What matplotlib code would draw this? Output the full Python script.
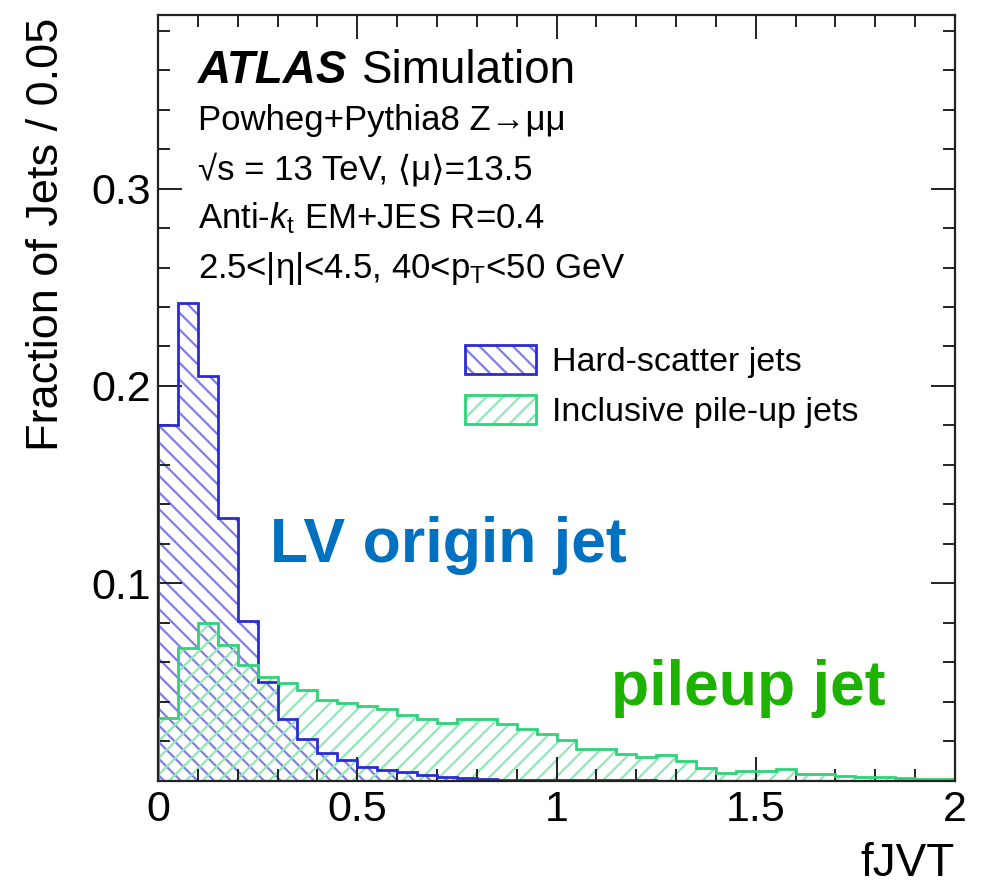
import numpy as np
import matplotlib
matplotlib.use("Agg")
import matplotlib.pyplot as plt
from matplotlib.ticker import MultipleLocator

plt.rcParams['font.family'] = ['Liberation Sans', 'DejaVu Sans']
plt.rcParams['mathtext.fontset'] = 'custom'
plt.rcParams['mathtext.rm'] = 'Liberation Sans'
plt.rcParams['mathtext.it'] = 'Liberation Sans:italic'
plt.rcParams['mathtext.bf'] = 'Liberation Sans:bold'
plt.rcParams['hatch.linewidth'] = 1.6

# fJVT binning, 0.05 wide
bin_edges = np.linspace(0, 2, 41)

# fraction of jets per bin
hs_jets = [0.180, 0.242, 0.205, 0.133, 0.081, 0.050, 0.031, 0.021, 0.014, 0.0104,
           0.007, 0.0054, 0.0045, 0.0028, 0.0016, 0.0012, 0.0006, 0.0004, 0.0003, 0.0002,
           0.0002, 0.0001, 0.0001, 0.0001, 0.0001, 0, 0, 0, 0, 0,
           0, 0, 0, 0, 0, 0, 0, 0, 0, 0]
pu_jets = [0.0316, 0.067, 0.0797, 0.0687, 0.0586, 0.0524, 0.0493, 0.0459, 0.0409, 0.0392,
           0.0378, 0.0364, 0.0333, 0.031, 0.029, 0.031, 0.031, 0.0285, 0.026, 0.0235,
           0.0206, 0.016, 0.016, 0.0135, 0.0121, 0.013, 0.0101, 0.0065, 0.0038, 0.005,
           0.0047, 0.0057, 0.0034, 0.0032, 0.0023, 0.002, 0.002, 0.0013, 0.001, 0.0007]

x_ticks = [0, 0.5, 1, 1.5, 2]
x_labels = ['0', '0.5', '1', '1.5', '2']
y_ticks = [0.1, 0.2, 0.3]
y_labels = ['0.1', '0.2', '0.3']

info_lines = ['Powheg+Pythia8 Z\u2192\u03bc\u03bc',
              '\u221as = 13 TeV, \u27e8\u03bc\u27e9=13.5',
              'Anti-$k_{\\mathrm{t}}$ EM+JES R=0.4',
              '2.5<|\u03b7|<4.5, 40<p$_{\\mathrm{T}}$<50 GeV']

blue_dark = '#2b2bd6'
blue_light = '#7f7fe6'
green_dark = '#2fd37a'
green_light = '#93e6b8'

centers = 0.5 * (bin_edges[:-1] + bin_edges[1:])

fig = plt.figure(figsize=(9.87, 8.86), dpi=100)
ax = fig.add_axes([158/987, 1 - 780.6/886, (955 - 158)/987, (780.6 - 15)/886])

_, _, hs_hatch = ax.hist(centers, bins=bin_edges, weights=hs_jets, histtype='stepfilled',
                         fill=False, hatch='\\\\', edgecolor=blue_light, linewidth=0)
_, _, pu_hatch = ax.hist(centers, bins=bin_edges, weights=pu_jets, histtype='stepfilled',
                         fill=False, hatch='//', edgecolor=green_light, linewidth=0)
_, _, hs_line = ax.hist(centers, bins=bin_edges, weights=hs_jets, histtype='step',
                        color=blue_dark, linewidth=2)
_, _, pu_line = ax.hist(centers, bins=bin_edges, weights=pu_jets, histtype='step',
                        color=green_dark, linewidth=2)

ax.set_xlim(0, 2)
ax.set_ylim(0, 0.388)
ax.set_xticks(x_ticks)
ax.set_xticklabels(x_labels)
ax.set_yticks(y_ticks)
ax.set_yticklabels(y_labels)
ax.xaxis.set_minor_locator(MultipleLocator(0.1))
ax.yaxis.set_minor_locator(MultipleLocator(0.02))
ax.tick_params(which='both', direction='in', top=True, right=True, width=1.4, color='#222222')
ax.tick_params(which='major', length=17, labelsize=31)
ax.tick_params(which='minor', length=8.5)
ax.tick_params(axis='x', pad=7)
ax.tick_params(axis='y', pad=5)
for s in ax.spines.values():
    s.set_linewidth(1.6)
    s.set_color('#222222')

fig.text(47/987, 1 - 18/886, 'Fraction of Jets / 0.05', rotation=90,
         ha='center', va='top', fontsize=32.5)
fig.text(955/987, 10/886, 'fJVT', ha='right', va='baseline', fontsize=33)

ax.text(0.050, 0.911, 'ATLAS', transform=ax.transAxes, fontsize=33,
        fontweight='bold', fontstyle='italic', va='baseline')
ax.text(0.256, 0.911, 'Simulation', transform=ax.transAxes, fontsize=33, va='baseline')
for i, line in enumerate(info_lines):
    ax.text(0.050, 0.850 - i * 0.0645, line, transform=ax.transAxes,
            fontsize=25, va='baseline')

ax.legend([(hs_hatch[0], hs_line[0]), (pu_hatch[0], pu_line[0])],
          ['Hard-scatter jets', 'Inclusive pile-up jets'],
          loc='upper left', bbox_to_anchor=(0.368, 0.587), frameon=False,
          fontsize=24.5, handlelength=2.1, handleheight=0.95, handletextpad=0.45,
          labelspacing=0.48, borderaxespad=0)

ax.text(0.141, 0.285, 'LV origin jet', transform=ax.transAxes, fontsize=45,
        fontweight='bold', color='#0070c0', va='baseline')
ax.text(0.569, 0.099, 'pileup jet', transform=ax.transAxes, fontsize=45,
        fontweight='bold', color='#1db100', va='baseline')

fig.savefig('out.png', dpi=100)
